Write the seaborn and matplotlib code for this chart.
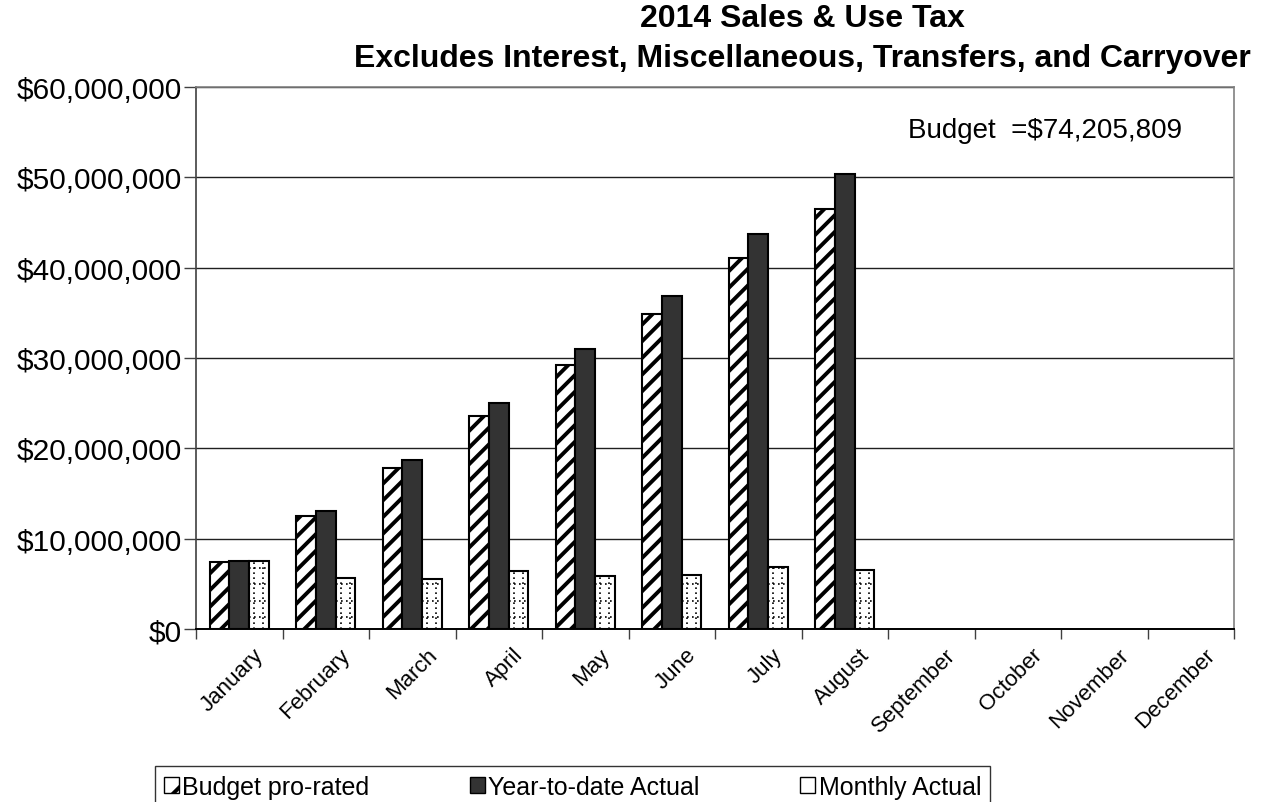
import numpy as np
import pandas as pd
import matplotlib
matplotlib.use("Agg")
import matplotlib.pyplot as plt
import matplotlib.transforms as mtransforms
from matplotlib.patches import Patch
from matplotlib.ticker import FuncFormatter, MultipleLocator
import seaborn as sns

# Monthly figures (dollars); months without data are left empty
months = ["January", "February", "March", "April", "May", "June",
          "July", "August", "September", "October", "November", "December"]
budget_prorated = [7.45e6, 12.55e6, 17.86e6, 23.55e6, 29.27e6, 34.88e6,
                   41.05e6, 46.50e6, np.nan, np.nan, np.nan, np.nan]
ytd_actual = [7.56e6, 13.10e6, 18.68e6, 25.03e6, 30.95e6, 36.90e6,
              43.74e6, 50.39e6, np.nan, np.nan, np.nan, np.nan]
monthly_actual = [7.56e6, 5.61e6, 5.54e6, 6.42e6, 5.90e6, 6.01e6,
                  6.83e6, 6.57e6, np.nan, np.nan, np.nan, np.nan]
series_names = ["Budget pro-rated", "Year-to-date Actual", "Monthly Actual"]
annual_budget = 74205809

df = pd.DataFrame({
    "month": months * 3,
    "series": [series_names[0]] * 12 + [series_names[1]] * 12 + [series_names[2]] * 12,
    "value": budget_prorated + ytd_actual + monthly_actual,
}).dropna()

sns.set_theme(style="white")
plt.rcParams["font.family"] = ["Liberation Sans", "DejaVu Sans"]
plt.rcParams["hatch.linewidth"] = 2.8
for key in ("text.color", "axes.labelcolor", "xtick.color", "ytick.color"):
    plt.rcParams[key] = "black"

fig = plt.figure(figsize=(12.62, 8.03), dpi=100)
ax = fig.add_axes([196 / 1262, 1 - 630 / 803, (1234 - 196) / 1262, (630 - 88) / 803])

palette = {series_names[0]: "white", series_names[1]: "#333333", series_names[2]: "white"}
sns.barplot(data=df, x="month", y="value", hue="series", order=months,
            hue_order=series_names, palette=palette, width=0.68,
            edgecolor="black", linewidth=1.5, saturation=1, legend=False, ax=ax)

# hatching: diagonal stripes on budget bars, dotted grid on monthly bars
for p in ax.containers[0]:
    p.set_hatch("//")
for p in ax.containers[2]:
    x0, w, h = p.get_x(), p.get_width(), p.get_height()
    if not np.isfinite(h) or h <= 0:
        continue
    for yy in np.arange(1.33e6, h, 1.8e6):
        ax.plot([x0, x0 + w], [yy, yy], color="black", lw=1.2,
                ls=(0, (1, 2)), clip_path=p, zorder=p.get_zorder() + 0.1)
    for fx in (0.27, 0.73):
        ax.plot([x0 + fx * w] * 2, [0, h], color="black", lw=1.2,
                ls=(0, (1, 2)), clip_path=p, zorder=p.get_zorder() + 0.1)

ax.set_ylim(0, 60e6)
ax.set_xlim(-0.5, len(months) - 0.5)
ax.yaxis.set_major_locator(MultipleLocator(10e6))
ax.yaxis.set_major_formatter(FuncFormatter(lambda v, _: f"${v:,.0f}"))
ax.grid(axis="y", color="#202020", lw=1.0)
ax.set_axisbelow(True)
ax.set_xlabel("")
ax.set_ylabel("")

for side in ("top", "right"):
    ax.spines[side].set_color("#808080")
    ax.spines[side].set_linewidth(1.2)
ax.spines["left"].set_color("#404040")
ax.spines["bottom"].set_color("black")
ax.spines["left"].set_linewidth(1.2)
ax.spines["bottom"].set_linewidth(1.4)

ax.tick_params(axis="y", which="major", left=True, length=9, width=1.0,
               color="#404040", labelsize=21.5, pad=1)
ax.set_xticks(np.arange(-0.5, len(months), 1.0), minor=True)
ax.tick_params(axis="x", which="minor", bottom=True, length=7, width=1.0,
               color="#404040")
ax.tick_params(axis="x", which="major", bottom=False, labelsize=16, pad=4)
shift = mtransforms.ScaledTranslation(0.14, -0.01, fig.dpi_scale_trans)
for lab in ax.get_xticklabels():
    lab.set_rotation(45)
    lab.set_ha("right")
    lab.set_rotation_mode("anchor")
    lab.set_transform(lab.get_transform() + shift)

ax.text(0.686, 0.921, "Budget  =${:,}".format(annual_budget), transform=ax.transAxes,
        fontsize=20, ha="left", va="center")

fig.text(0.6355, 1 - 4 / 803,
         "2014 Sales & Use Tax\nExcludes Interest, Miscellaneous, Transfers, and Carryover",
         ha="center", va="top", fontsize=23, fontweight="bold", linespacing=1.42)

handles = [
    Patch(facecolor="white", edgecolor="black", hatch="/", lw=1.0),
    Patch(facecolor="#333333", edgecolor="black", lw=1.0),
    Patch(facecolor="white", edgecolor="black", lw=1.0),
]
leg = fig.legend(handles, series_names, loc="upper left",
                 bbox_to_anchor=(155 / 1262, -0.05, (990 - 155) / 1262, 0.0948),
                 mode="expand", ncol=3, frameon=True, fancybox=False,
                 fontsize=18, handlelength=0.6, handleheight=0.6,
                 handletextpad=0.15, borderpad=0.35, borderaxespad=0)
leg.get_frame().set_edgecolor("black")
leg.get_frame().set_linewidth(1.0)

fig.savefig("out.png", dpi=100)
